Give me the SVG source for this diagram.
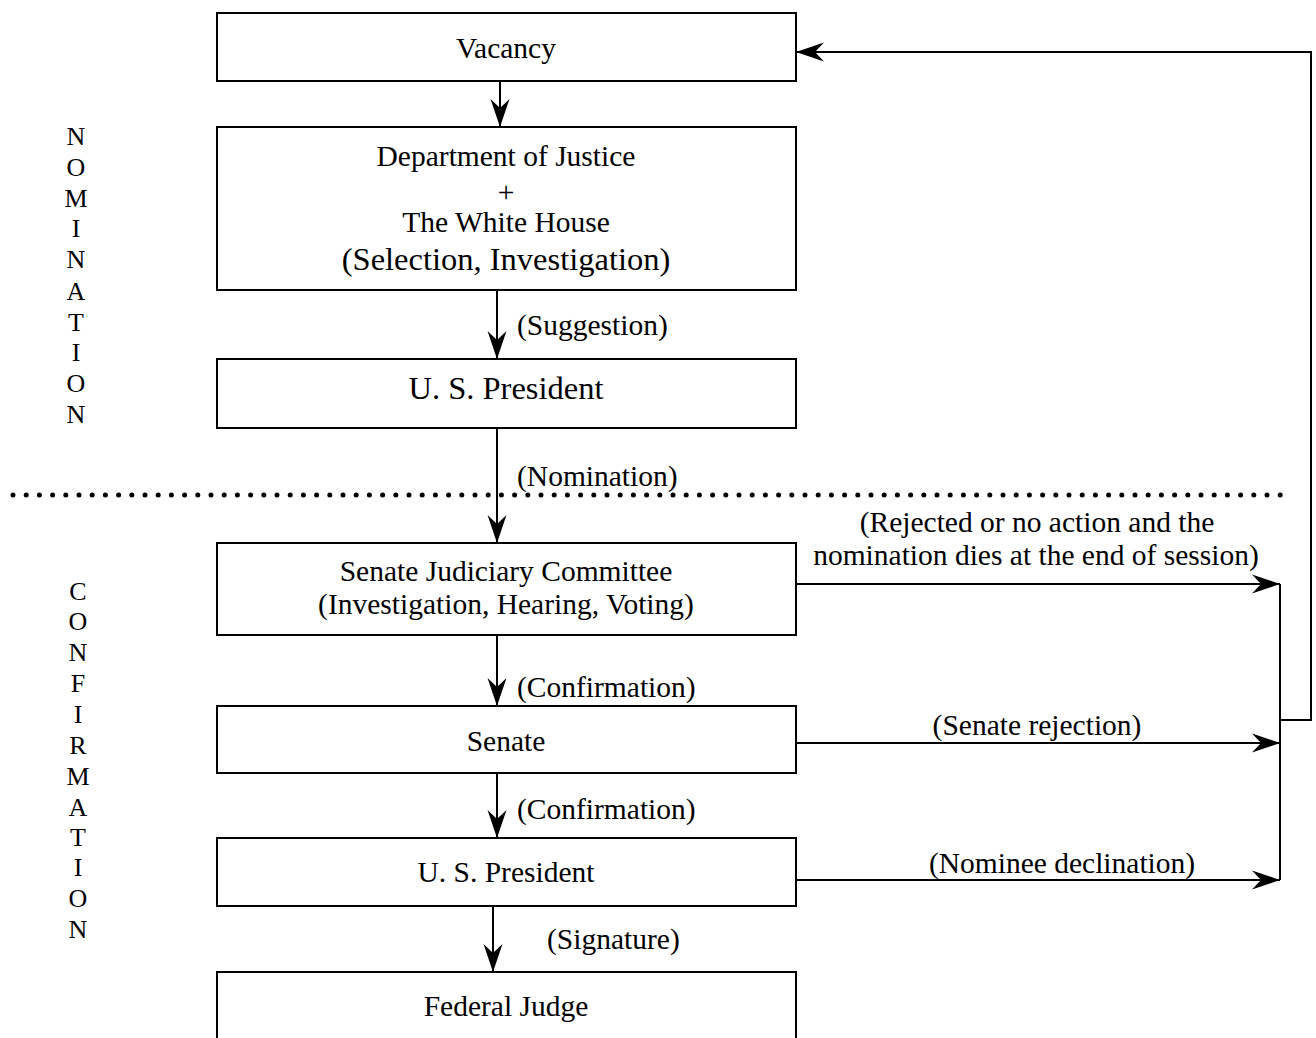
<svg xmlns="http://www.w3.org/2000/svg" width="1316" height="1038" viewBox="0 0 1316 1038">
<defs>
<style>
.box{fill:#fff;stroke:#000;stroke-width:2}
.t{font-family:"Liberation Serif","Times New Roman",serif;font-size:29.5px;fill:#000;text-anchor:middle}
.big{font-size:32.5px}
.lbl{font-family:"Liberation Serif","Times New Roman",serif;font-size:29.5px;fill:#000}
.side{font-family:"Liberation Serif","Times New Roman",serif;font-size:26px;fill:#000;text-anchor:middle}
.c{fill:none;stroke:#000;stroke-width:2}
.dots{fill:none;stroke:#000;stroke-width:5;stroke-linecap:round;stroke-dasharray:0 13.2}
</style>
<marker id="ah" markerUnits="userSpaceOnUse" markerWidth="30" markerHeight="22" viewBox="-29 -11 30 22" refX="0" refY="0" orient="auto">
<path d="M0,0 L-28,-9.5 L-19,0 L-28,9.5 Z" fill="#000"/>
</marker>
</defs>

<g id="labels-side">
<text class="side" x="76" y="145">N</text>
<text class="side" x="76" y="176">O</text>
<text class="side" x="76" y="207">M</text>
<text class="side" x="76" y="237">I</text>
<text class="side" x="76" y="268">N</text>
<text class="side" x="76" y="300">A</text>
<text class="side" x="76" y="331">T</text>
<text class="side" x="76" y="361">I</text>
<text class="side" x="76" y="392">O</text>
<text class="side" x="76" y="423">N</text>

<text class="side" x="78" y="600">C</text>
<text class="side" x="78" y="630">O</text>
<text class="side" x="78" y="661">N</text>
<text class="side" x="78" y="692">F</text>
<text class="side" x="78" y="723">I</text>
<text class="side" x="78" y="754">R</text>
<text class="side" x="78" y="785">M</text>
<text class="side" x="78" y="816">A</text>
<text class="side" x="78" y="846">T</text>
<text class="side" x="78" y="876">I</text>
<text class="side" x="78" y="907">O</text>
<text class="side" x="78" y="938">N</text>
</g>

<path id="divider" class="dots" d="M13,495 L1285,495"/>

<g id="connectors">
<path class="c" d="M500,81 L500,127" marker-end="url(#ah)"/>
<path class="c" d="M497,290 L497,359" marker-end="url(#ah)"/>
<path class="c" d="M497,428 L497,543" marker-end="url(#ah)"/>
<path class="c" d="M497,635 L497,706" marker-end="url(#ah)"/>
<path class="c" d="M497,773 L497,838" marker-end="url(#ah)"/>
<path class="c" d="M493,906 L493,972" marker-end="url(#ah)"/>
<path class="c" d="M796,584 L1280,584" marker-end="url(#ah)"/>
<path class="c" d="M796,743 L1280,743" marker-end="url(#ah)"/>
<path class="c" d="M796,880 L1280,880" marker-end="url(#ah)"/>
<path class="c" d="M1280,584 L1280,880"/>
<path class="c" d="M1280,720 L1311,720 L1311,52 L796,52" marker-end="url(#ah)"/>
<text class="lbl" x="517" y="335">(Suggestion)</text>
<text class="lbl" x="517" y="486">(Nomination)</text>
<text class="lbl" x="517" y="697">(Confirmation)</text>
<text class="lbl" x="517" y="819">(Confirmation)</text>
<text class="lbl" x="547" y="949">(Signature)</text>
<text class="t" x="1037" y="532">(Rejected or no action and the</text>
<text class="t" x="1036" y="565">nomination dies at the end of session)</text>
<text class="t" x="1037" y="735">(Senate rejection)</text>
<text class="t" x="1062" y="873">(Nominee declination)</text>
</g>

<g id="vacancy">
<rect class="box" x="217" y="13" width="579" height="68"/>
<text class="t" x="506" y="58">Vacancy</text>
</g>
<g id="doj">
<rect class="box" x="217" y="127" width="579" height="163"/>
<text class="t" x="506" y="166">Department of Justice</text>
<text class="t" x="506" y="202">+</text>
<text class="t" x="506" y="232">The White House</text>
<text class="t big" x="506" y="270">(Selection, Investigation)</text>
</g>
<g id="president1">
<rect class="box" x="217" y="359" width="579" height="69"/>
<text class="t big" x="506" y="399">U. S. President</text>
</g>
<g id="sjc">
<rect class="box" x="217" y="543" width="579" height="92"/>
<text class="t" x="506" y="581">Senate Judiciary Committee</text>
<text class="t" x="506" y="614">(Investigation, Hearing, Voting)</text>
</g>
<g id="senate">
<rect class="box" x="217" y="706" width="579" height="67"/>
<text class="t" x="506" y="751">Senate</text>
</g>
<g id="president2">
<rect class="box" x="217" y="838" width="579" height="68"/>
<text class="t" x="506" y="882">U. S. President</text>
</g>
<g id="judge">
<rect class="box" x="217" y="972" width="579" height="80"/>
<text class="t" x="506" y="1016">Federal Judge</text>
</g>
</svg>
